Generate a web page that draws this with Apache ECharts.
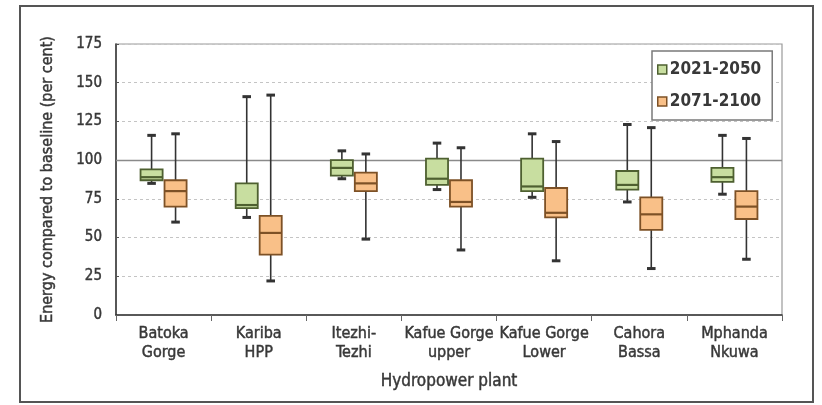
<!DOCTYPE html>
<html>
<head>
<meta charset="utf-8">
<script src="https://cdn.jsdelivr.net/npm/echarts@6/dist/echarts.min.js"></script>
<style>
  html, body { margin: 0; padding: 0; background: #fff; }
  #chart { width: 822px; height: 405px; }
</style>
</head>
<body>
<div id="chart"></div>
<script>
// Hydropower plants on the category axis
var plants = [
  'Batoka\nGorge', 'Kariba\nHPP', 'Itezhi-\nTezhi', 'Kafue Gorge\nupper',
  'Kafue Gorge\nLower', 'Cahora\nBassa', 'Mphanda\nNkuwa'
];

// Box statistics per plant: [min, q1, median, q3, max], per cent of baseline
var period2021 = [
  [85, 87, 89, 94, 116],
  [63, 69, 71, 85, 141],
  [88, 90, 95, 100, 106],
  [81, 84, 88, 101, 111],
  [76, 80, 83, 101, 117],
  [73, 81, 84, 93, 123],
  [78, 86, 89, 95, 116]
];
var period2071 = [
  [60, 70, 80, 87, 117],
  [22, 39, 53, 64, 142],
  [49, 80, 85, 92, 104],
  [42, 70, 73, 87, 108],
  [35, 63, 66, 82, 112],
  [30, 55, 65, 76, 121],
  [36, 62, 70, 80, 114]
];

var seriesNames = ['2021-2050', '2071-2100'];
var yTicks = { min: 0, max: 175, step: 25 };
var baselineLevel = 100;

var FONT = '"Liberation Sans Narrow", "DejaVu Sans Condensed", "Roboto Condensed", sans-serif';
var TEXT = '#383838';

// Semi-bold look: regular face with a thin outline in the text colour
function semiBold(size, extra) {
  var s = { fontFamily: FONT, fontSize: size, color: TEXT, textBorderColor: TEXT, textBorderWidth: 0.45 };
  for (var k in extra) s[k] = extra[k];
  return s;
}

var greenFill = '#c8dea0', greenLine = '#4e6030';
var orangeFill = '#f9c088', orangeLine = '#7d5126';

function withIndex(rows) {
  return rows.map(function (r, i) { return [i].concat(r); });
}

// Draws one box-and-whisker glyph per category, shifted sideways within the band
function boxRenderer(shift, fill, stroke) {
  return function (params, api) {
    var i = api.value(0);
    var band = api.size([1, 0])[0];
    var cx = api.coord([i, 0])[0] + shift * band;
    var half = band * 0.116;
    var cap = band * 0.045;
    var y = function (k) { return api.coord([i, api.value(k)])[1]; };
    var yMin = y(1), yQ1 = y(2), yMed = y(3), yQ3 = y(4), yMax = y(5);
    var wStyle = { stroke: '#333', lineWidth: 1.6 };
    var cStyle = { stroke: '#333', lineWidth: 3 };
    return {
      type: 'group',
      children: [
        { type: 'line', shape: { x1: cx, y1: yMax, x2: cx, y2: yQ3 }, style: wStyle },
        { type: 'line', shape: { x1: cx, y1: yQ1, x2: cx, y2: yMin }, style: wStyle },
        { type: 'line', shape: { x1: cx - cap, y1: yMax, x2: cx + cap, y2: yMax }, style: cStyle },
        { type: 'line', shape: { x1: cx - cap, y1: yMin, x2: cx + cap, y2: yMin }, style: cStyle },
        { type: 'rect', shape: { x: cx - half, y: yQ3, width: half * 2, height: yQ1 - yQ3 },
          style: { fill: fill, stroke: stroke, lineWidth: 1.8 } },
        { type: 'line', shape: { x1: cx - half, y1: yMed, x2: cx + half, y2: yMed },
          style: { stroke: stroke, lineWidth: 2.2 } }
      ]
    };
  };
}

var chart = echarts.init(document.getElementById('chart'), null, { renderer: 'canvas' });

chart.setOption({
  backgroundColor: '#fff',
  animation: false,
  textStyle: { fontFamily: FONT, color: TEXT },
  graphic: [{
    type: 'rect',
    shape: { x: 20, y: 6, width: 793, height: 396 },
    style: { fill: 'none', stroke: '#555', lineWidth: 2 },
    z: 100
  }],
  grid: {
    left: 116, right: 40, top: 44, bottom: 90,
    show: true, borderColor: '#9a9a9a', borderWidth: 1.2, backgroundColor: '#fff'
  },
  legend: {
    orient: 'vertical',
    left: 652, top: 51,
    padding: [10, 11, 10, 5],
    itemGap: 15,
    itemWidth: 9, itemHeight: 9,
    borderColor: '#7a7a7a', borderWidth: 1.5,
    backgroundColor: '#fff',
    textStyle: { fontFamily: FONT, fontSize: 17, fontWeight: 'bold', color: TEXT, padding: [0, 0, 0, -2] },
    data: [
      { name: seriesNames[0], icon: 'rect', itemStyle: { color: greenFill, borderColor: greenLine, borderWidth: 1.5 } },
      { name: seriesNames[1], icon: 'rect', itemStyle: { color: orangeFill, borderColor: orangeLine, borderWidth: 1.5 } }
    ]
  },
  xAxis: {
    type: 'category',
    data: plants,
    boundaryGap: true,
    name: 'Hydropower plant',
    nameLocation: 'middle',
    nameGap: 58,
    nameTextStyle: semiBold(17),
    axisLine: { lineStyle: { color: '#333', width: 1.5 } },
    axisTick: { show: true, length: 6, lineStyle: { color: '#666' } },
    axisLabel: semiBold(16, { lineHeight: 19, margin: 9, interval: 0 }),
    splitLine: { show: false }
  },
  yAxis: {
    type: 'value',
    min: yTicks.min, max: yTicks.max, interval: yTicks.step,
    name: 'Energy compared to baseline (per cent)',
    nameLocation: 'middle',
    nameGap: 60,
    nameTextStyle: semiBold(16),
    axisLine: { show: true, lineStyle: { color: '#333', width: 1.5 } },
    axisTick: { show: true, inside: true, length: 3, lineStyle: { color: '#555' } },
    axisLabel: semiBold(15, { margin: 14 }),
    splitLine: { show: true, lineStyle: { color: '#c4c4c4', type: [3, 3], width: 1 } }
  },
  series: [
    {
      name: 'baseline',
      type: 'line',
      data: [],
      silent: true,
      markLine: {
        silent: true,
        symbol: 'none',
        label: { show: false },
        lineStyle: { color: '#8a8a8a', type: 'solid', width: 1.3 },
        data: [{ yAxis: baselineLevel }]
      }
    },
    {
      name: seriesNames[0],
      type: 'custom',
      itemStyle: { color: greenFill, borderColor: greenLine },
      renderItem: boxRenderer(-0.126, greenFill, greenLine),
      encode: { x: 0, y: [1, 2, 3, 4, 5] },
      data: withIndex(period2021),
      z: 5
    },
    {
      name: seriesNames[1],
      type: 'custom',
      itemStyle: { color: orangeFill, borderColor: orangeLine },
      renderItem: boxRenderer(0.126, orangeFill, orangeLine),
      encode: { x: 0, y: [1, 2, 3, 4, 5] },
      data: withIndex(period2071),
      z: 5
    }
  ]
});
</script>
</body>
</html>
